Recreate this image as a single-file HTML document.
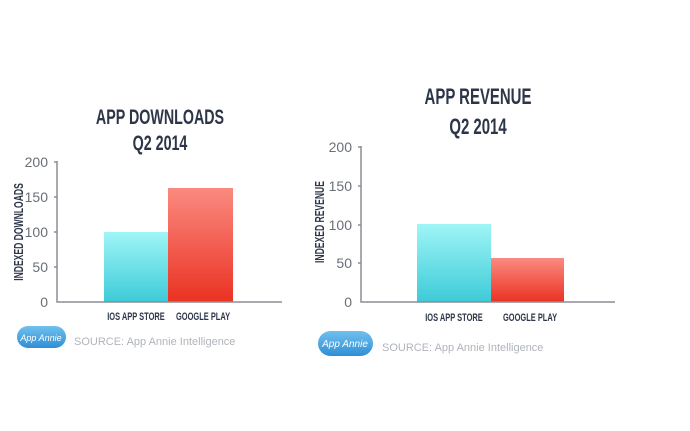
<!DOCTYPE html>
<html><head><meta charset="utf-8"><style>
html,body{margin:0;padding:0;background:#fff;}
svg{display:block;}
.t{font-family:"Liberation Sans",sans-serif;font-weight:bold;fill:#2d3648;}
.n{font-family:"Liberation Sans",sans-serif;fill:#6a6f78;font-size:14px;}
.s{font-family:"Liberation Sans",sans-serif;fill:#b0b4ba;font-size:11px;}
</style></head><body>
<svg width="690" height="431" viewBox="0 0 690 431" xmlns="http://www.w3.org/2000/svg">
<defs>
<linearGradient id="b" x1="0" y1="0" x2="0" y2="1"><stop offset="0" stop-color="#9ff5f6"/><stop offset="1" stop-color="#3dcbd8"/></linearGradient>
<linearGradient id="r" x1="0" y1="0" x2="0" y2="1"><stop offset="0" stop-color="#fb8a80"/><stop offset="1" stop-color="#ea3222"/></linearGradient>
<linearGradient id="p" x1="0" y1="0" x2="0" y2="1"><stop offset="0" stop-color="#6fc0ee"/><stop offset="1" stop-color="#2f8fd6"/></linearGradient>
</defs>
<rect width="690" height="431" fill="#fff"/>
<!-- LEFT -->
<g transform="translate(160,124) scale(0.68,1)"><text class="t" x="0" y="0" font-size="21" text-anchor="middle">APP DOWNLOADS</text></g>
<g transform="translate(160,150) scale(0.68,1)"><text class="t" x="0" y="0" font-size="21" text-anchor="middle">Q2 2014</text></g>
<rect x="104" y="232" width="64" height="70" fill="url(#b)"/>
<rect x="168" y="188" width="65" height="114" fill="url(#r)"/>
<g stroke="#8a8f96" stroke-width="1.5" fill="none">
<path d="M57 161 V302 H282"/>
<path d="M54 162H57M54 197H57M54 232H57M54 267H57"/>
</g>
<text class="n" x="48" y="167" text-anchor="end">200</text>
<text class="n" x="48" y="202" text-anchor="end">150</text>
<text class="n" x="48" y="237" text-anchor="end">100</text>
<text class="n" x="48" y="272" text-anchor="end">50</text>
<text class="n" x="48" y="307" text-anchor="end">0</text>
<g transform="translate(23,232) rotate(-90) scale(0.66,1)"><text class="t" x="0" y="0" font-size="13" text-anchor="middle">INDEXED DOWNLOADS</text></g>
<g transform="translate(136,320) scale(0.68,1)"><text class="t" x="0" y="0" font-size="11" text-anchor="middle">IOS APP STORE</text></g>
<g transform="translate(203,320) scale(0.68,1)"><text class="t" x="0" y="0" font-size="11" text-anchor="middle">GOOGLE PLAY</text></g>
<rect x="17" y="326" width="49" height="22" rx="11" fill="url(#p)"/>
<text x="41" y="341" font-family="Liberation Sans,sans-serif" font-style="italic" font-size="9" fill="#fff" text-anchor="middle">App Annie</text>
<text class="s" x="74" y="345">SOURCE: App Annie Intelligence</text>
<!-- RIGHT -->
<g transform="translate(478,104) scale(0.68,1)"><text class="t" x="0" y="0" font-size="22" text-anchor="middle">APP REVENUE</text></g>
<g transform="translate(478,134) scale(0.68,1)"><text class="t" x="0" y="0" font-size="22" text-anchor="middle">Q2 2014</text></g>
<rect x="417" y="224" width="74" height="78" fill="url(#b)"/>
<rect x="491" y="258" width="73" height="44" fill="url(#r)"/>
<g stroke="#8a8f96" stroke-width="1.5" fill="none">
<path d="M361 146 V302 H615"/>
<path d="M358 147H361M358 186H361M358 225H361M358 263H361"/>
</g>
<text class="n" x="352" y="152" text-anchor="end" font-size="15">200</text>
<text class="n" x="352" y="191" text-anchor="end" font-size="15">150</text>
<text class="n" x="352" y="230" text-anchor="end" font-size="15">100</text>
<text class="n" x="352" y="268" text-anchor="end" font-size="15">50</text>
<text class="n" x="352" y="307" text-anchor="end" font-size="15">0</text>
<g transform="translate(324,222) rotate(-90) scale(0.66,1)"><text class="t" x="0" y="0" font-size="13" text-anchor="middle">INDEXED REVENUE</text></g>
<g transform="translate(454,321) scale(0.68,1)"><text class="t" x="0" y="0" font-size="11" text-anchor="middle">IOS APP STORE</text></g>
<g transform="translate(530,321) scale(0.68,1)"><text class="t" x="0" y="0" font-size="11" text-anchor="middle">GOOGLE PLAY</text></g>
<rect x="318" y="331" width="55" height="25" rx="12.5" fill="url(#p)"/>
<text x="345" y="347" font-family="Liberation Sans,sans-serif" font-style="italic" font-size="10" fill="#fff" text-anchor="middle">App Annie</text>
<text class="s" x="382" y="351" font-size="12">SOURCE: App Annie Intelligence</text>
</svg>
</body></html>
